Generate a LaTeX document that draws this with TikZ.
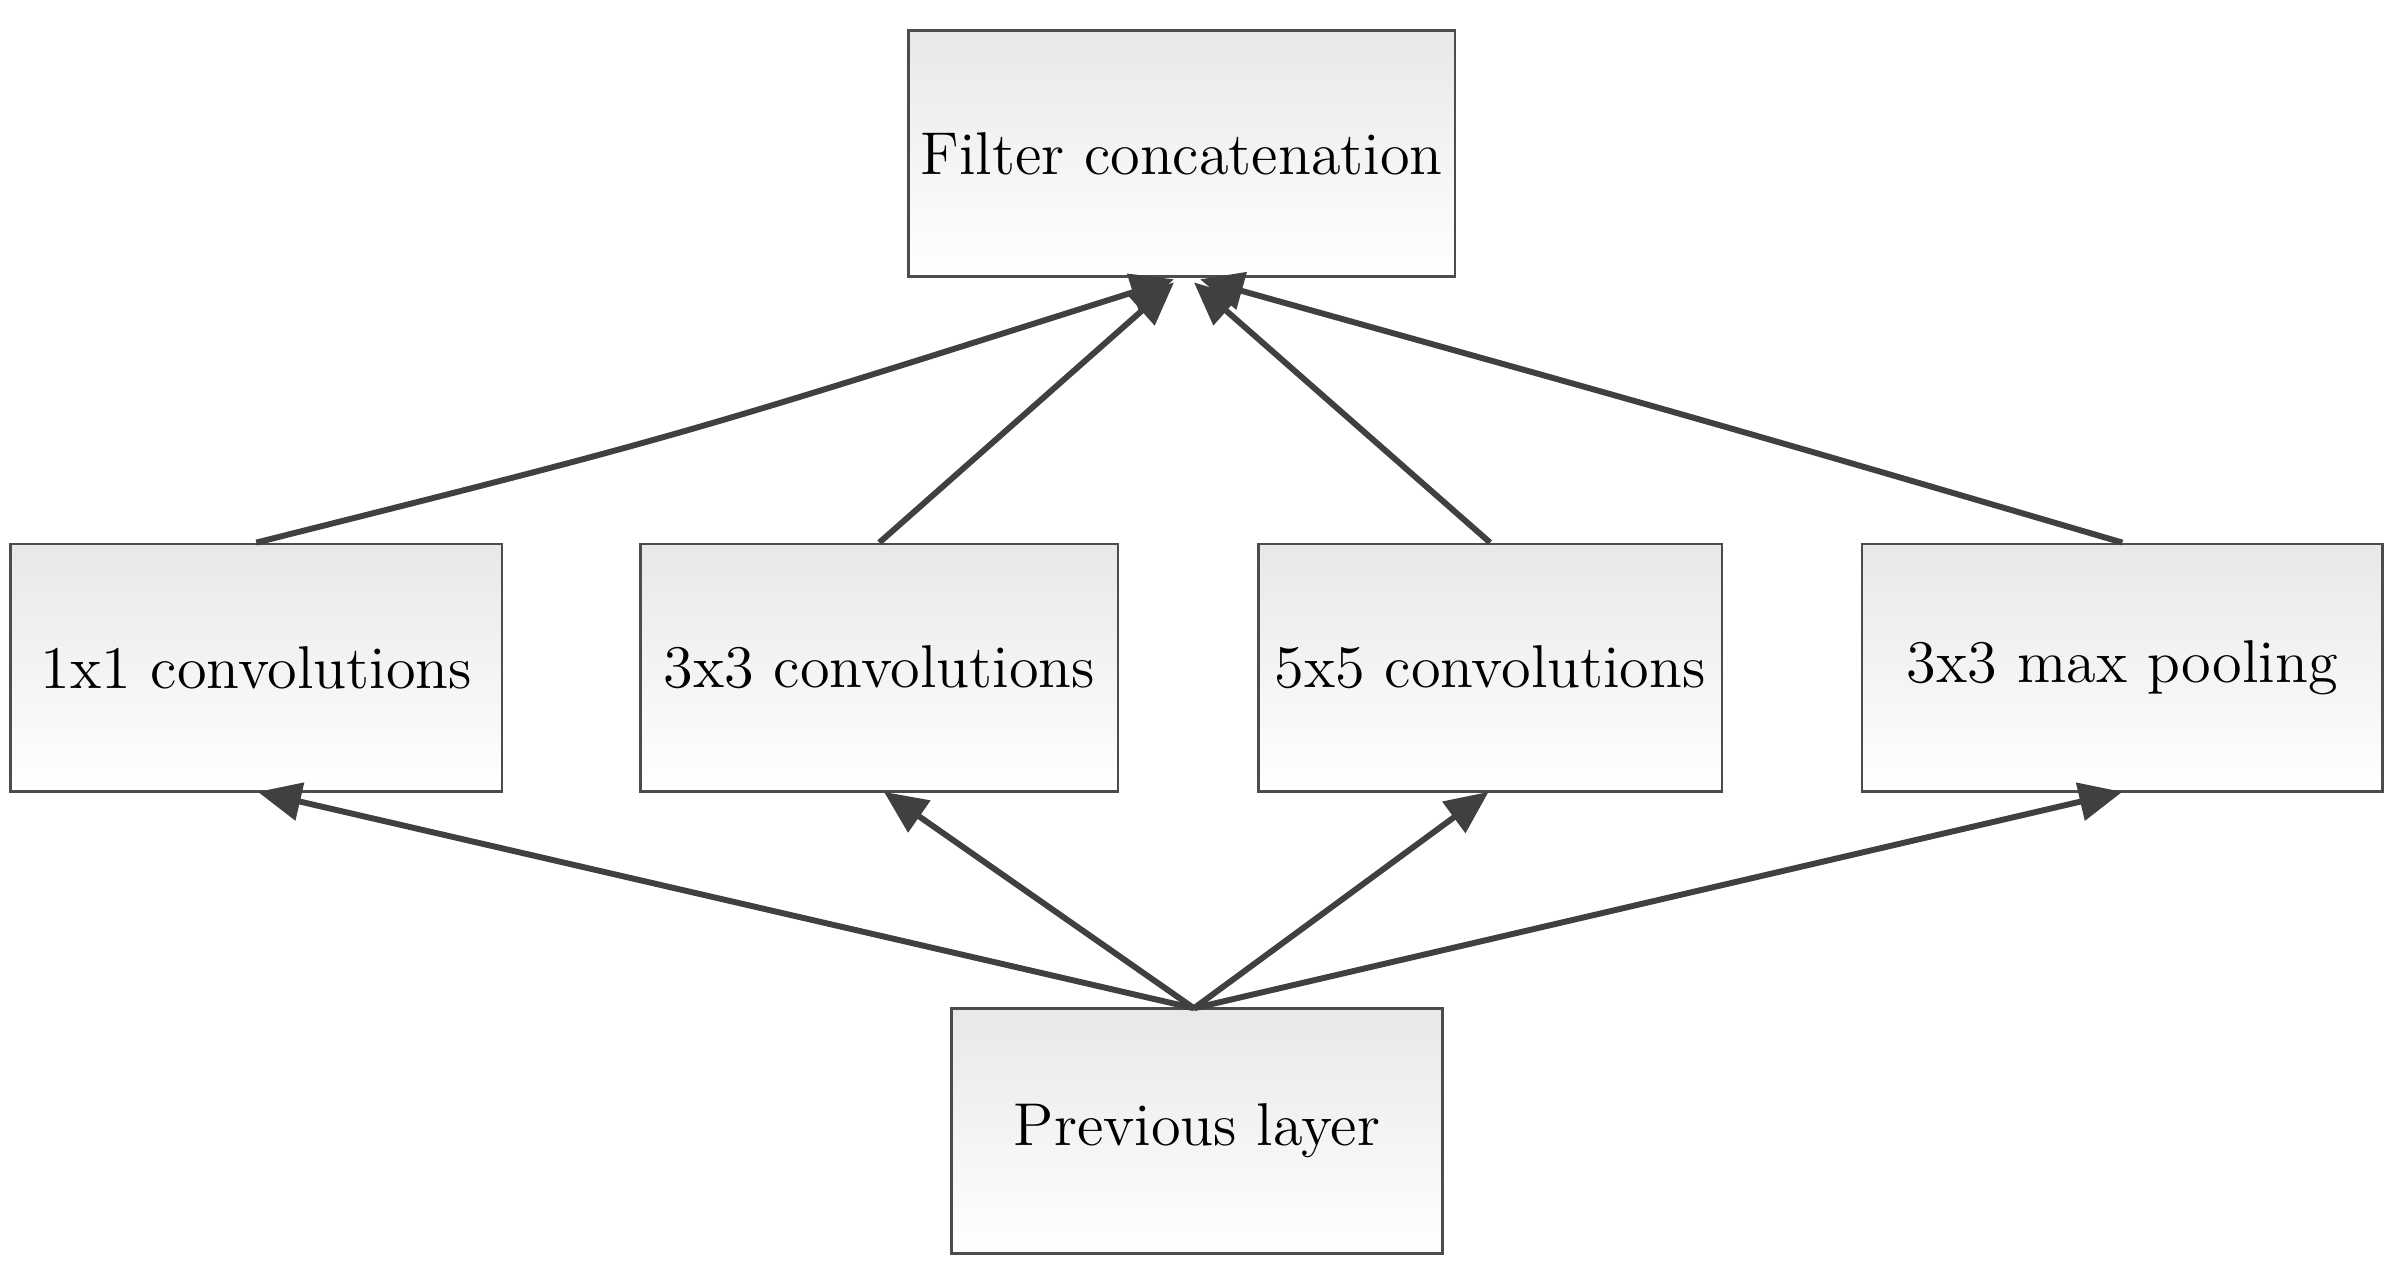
\documentclass[tikz,border=0pt]{standalone}
\usetikzlibrary{arrows.meta}
\begin{document}
\begin{tikzpicture}[x=0.01cm,y=-0.01cm,
  box/.style={draw=black!70,line width=0.5pt,top color=black!9,bottom color=white,minimum width=#1,inner sep=0pt,font=\fontsize{11.2}{13}\selectfont},
  arr/.style={draw=black!75,line width=1.1pt,-{Triangle[length=8pt,width=7pt]}}]
\useasboundingbox (0,0) rectangle (1560,825);
\node[box=3.56cm,minimum height=1.6cm] (fc) at (770,100) {Filter concatenation};
\node[box=3.2cm,minimum height=1.61cm] (c1) at (167,435) {1x1 convolutions};
\node[box=3.11cm,minimum height=1.61cm] (c3) at (573,435) {3x3 convolutions};
\node[box=3.02cm,minimum height=1.61cm] (c5) at (971,435) {5x5 convolutions};
\node[box=3.39cm,minimum height=1.61cm] (mp) at (1383,435) {3x3 max pooling};
\node[box=3.2cm,minimum height=1.6cm] (pl) at (780,737) {Previous layer};
\coordinate (t) at (778,657);
\draw[arr] (c1.north) .. controls (440,285) .. (765,182);
\draw[arr] (c3.north) -- (765,184);
\draw[arr] (c5.north) -- (778,184);
\draw[arr] (mp.north) .. controls (1115,275) .. (782,182);
\draw[arr] (t) -- (168,516);
\draw[arr] (t) -- (576,516);
\draw[arr] (t) -- (970,516);
\draw[arr] (t) -- (1383,516);
\end{tikzpicture}
\end{document}
